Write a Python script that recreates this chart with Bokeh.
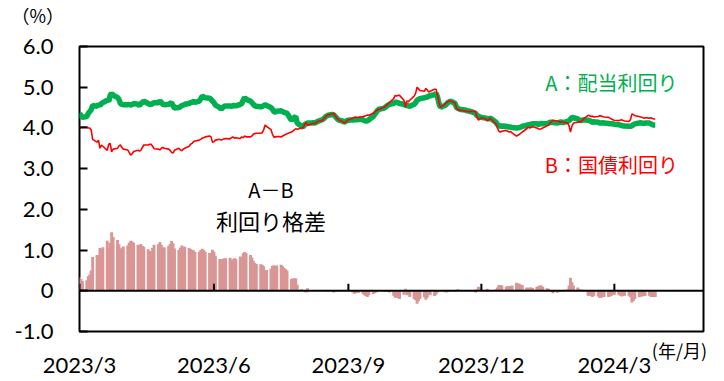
import pandas as pd
from bokeh.plotting import figure
from bokeh.models import ColumnDataSource, FixedTicker, Span, Label, Range1d, Title
from bokeh.embed import file_html
from bokeh.resources import INLINE

# ---- data (business days, 2023/3/1 - 2024/3/29) ----
dates = pd.bdate_range("2023-03-01", "2024-03-29")

div_yield = [
    4.36, 4.30, 4.26,
    4.28, 4.36, 4.40, 4.45, 4.55,
    4.53, 4.58, 4.55, 4.60, 4.62,
    4.68, 4.65, 4.80, 4.85, 4.80,
    4.75, 4.70, 4.60, 4.58, 4.57,
    4.57, 4.58, 4.56, 4.57, 4.60,
    4.58, 4.55, 4.60, 4.62, 4.66,
    4.60, 4.58, 4.57, 4.60, 4.62,
    4.62, 4.66, 4.63, 4.58, 4.57,
    4.58, 4.60, 4.62, 4.55, 4.49,
    4.50, 4.52, 4.55, 4.56, 4.58,
    4.60, 4.62, 4.63, 4.65, 4.63,
    4.66, 4.72, 4.78, 4.76, 4.74,
    4.73, 4.70, 4.66, 4.62, 4.56,
    4.50, 4.46, 4.50, 4.53, 4.54,
    4.54, 4.53, 4.55, 4.55, 4.54,
    4.58, 4.60, 4.68, 4.75, 4.70,
    4.66, 4.62, 4.58, 4.54, 4.53,
    4.52, 4.52, 4.55, 4.57, 4.55,
    4.50, 4.46, 4.40, 4.39, 4.41,
    4.42, 4.40, 4.38, 4.37, 4.36,
    4.19, 4.22, 4.26, 4.28, 4.12,
    4.04, 4.02, 4.08, 4.10, 4.12,
    4.12, 4.13, 4.12, 4.14, 4.16,
    4.20, 4.22, 4.26, 4.29, 4.31,
    4.33, 4.32, 4.28, 4.24, 4.20,
    4.17, 4.14, 4.16, 4.18, 4.19,
    4.20, 4.19, 4.21, 4.20, 4.21,
    4.20, 4.18, 4.17, 4.17, 4.20,
    4.28, 4.33, 4.38, 4.43, 4.46,
    4.48, 4.50, 4.53, 4.56, 4.58,
    4.60, 4.63, 4.63, 4.62, 4.60,
    4.58, 4.56, 4.55, 4.54, 4.53,
    4.58, 4.62, 4.68, 4.70, 4.72,
    4.74, 4.75, 4.76, 4.78, 4.79,
    4.82, 4.85, 4.76, 4.60, 4.51,
    4.55, 4.58, 4.62, 4.64, 4.66,
    4.60, 4.50, 4.48, 4.46, 4.45,
    4.44, 4.42, 4.42, 4.41, 4.40,
    4.36, 4.30, 4.29, 4.27, 4.26,
    4.24, 4.23, 4.22, 4.24, 4.22,
    4.14, 4.08, 4.06, 4.04, 4.05,
    4.04, 4.03, 4.02, 4.02, 4.01,
    4.00, 4.00, 4.01, 4.02, 4.04,
    4.06, 4.08, 4.08, 4.09, 4.10,
    4.10, 4.09, 4.10, 4.11, 4.10,
    4.11, 4.12, 4.14, 4.14, 4.13,
    4.12, 4.13, 4.15, 4.14, 4.13,
    4.16, 4.18, 4.22, 4.26, 4.25,
    4.22, 4.19, 4.18, 4.19, 4.20,
    4.19, 4.18, 4.16, 4.14, 4.15,
    4.14, 4.12, 4.12, 4.13, 4.12,
    4.11, 4.10, 4.10, 4.10, 4.09,
    4.08, 4.07, 4.06, 4.05, 4.05,
    4.04, 4.04, 4.05, 4.08, 4.10,
    4.12, 4.13, 4.12, 4.11, 4.12,
    4.12, 4.10, 4.08, 4.07, 4.07,
]

bond_yield = [
    4.02, 4.01, 4.02,
    4.02, 4.00, 4.00, 3.95, 3.72,
    3.65, 3.70, 3.50, 3.58, 3.55,
    3.45, 3.60, 3.62, 3.41, 3.48,
    3.50, 3.56, 3.58, 3.52, 3.48,
    3.46, 3.40, 3.33, 3.36, 3.42,
    3.45, 3.43, 3.45, 3.52, 3.58,
    3.58, 3.60, 3.60, 3.55, 3.49,
    3.48, 3.46, 3.50, 3.52, 3.50,
    3.48, 3.45, 3.40, 3.38, 3.45,
    3.50, 3.46, 3.44, 3.48, 3.50,
    3.55, 3.60, 3.62, 3.66, 3.68,
    3.70, 3.72, 3.75, 3.76, 3.78,
    3.80, 3.78, 3.65, 3.66, 3.70,
    3.72, 3.70, 3.72, 3.73, 3.74,
    3.73, 3.76, 3.78, 3.75, 3.76,
    3.74, 3.78, 3.76, 3.80, 3.78,
    3.78, 3.80, 3.85, 3.86, 3.87,
    3.87, 3.88, 3.95, 4.07, 4.04,
    3.96, 3.85, 3.77, 3.78, 3.79,
    3.78, 3.80, 3.82, 3.84, 3.86,
    3.90, 3.92, 3.95, 3.98, 3.97,
    4.00, 4.00, 4.08, 4.14, 4.06,
    4.10, 4.12, 4.10, 4.14, 4.16,
    4.18, 4.22, 4.26, 4.30, 4.32,
    4.34, 4.36, 4.30, 4.25, 4.20,
    4.16, 4.12, 4.14, 4.18, 4.20,
    4.24, 4.26, 4.27, 4.25, 4.26,
    4.28, 4.29, 4.30, 4.32, 4.31,
    4.36, 4.39, 4.42, 4.45, 4.46,
    4.50, 4.52, 4.56, 4.58, 4.62,
    4.72, 4.80, 4.78, 4.80, 4.80,
    4.68, 4.51, 4.66, 4.64, 4.68,
    4.78, 4.85, 5.00, 4.96, 4.92,
    4.90, 4.97, 4.93, 4.88, 4.90,
    4.95, 4.95, 4.80, 4.62, 4.51,
    4.58, 4.62, 4.64, 4.66, 4.66,
    4.62, 4.48, 4.44, 4.45, 4.43,
    4.42, 4.41, 4.40, 4.40, 4.41,
    4.40, 4.26, 4.19, 4.22, 4.25,
    4.22, 4.18, 4.20, 4.24, 4.20,
    4.10, 4.00, 3.92, 3.90, 3.92,
    3.94, 3.92, 3.90, 3.91, 3.88,
    3.80, 3.82, 3.84, 3.87, 3.90,
    3.98, 4.02, 4.00, 4.01, 4.03,
    4.00, 3.98, 3.97, 3.98, 4.00,
    4.05, 4.07, 4.12, 4.16, 4.19,
    4.17, 4.16, 4.14, 4.15, 4.14,
    4.12, 4.05, 3.90, 4.05, 4.12,
    4.14, 4.16, 4.15, 4.18, 4.22,
    4.31, 4.30, 4.28, 4.29, 4.27,
    4.28, 4.30, 4.29, 4.28, 4.27,
    4.26, 4.24, 4.22, 4.20, 4.19,
    4.18, 4.19, 4.20, 4.18, 4.17,
    4.16, 4.20, 4.34, 4.33, 4.30,
    4.28, 4.27, 4.26, 4.24, 4.25,
    4.24, 4.25, 4.23, 4.22, 4.22,
]

spread = [round(a - b, 2) for a, b in zip(div_yield, bond_yield)]

x_tick_dates = ["2023-03-01", "2023-06-01", "2023-09-01", "2023-12-01", "2024-03-01"]
x_tick_labels = ["2023/3", "2023/6", "2023/9", "2023/12", "2024/3"]
y_ticks = [-1, 0, 1, 2, 3, 4, 5, 6]
y_tick_labels = ["-1.0", "0", "1.0", "2.0", "3.0", "4.0", "5.0", "6.0"]

label_a = "A：配当利回り"
label_b = "B：国債利回り"
label_spread_1 = "A－B"
label_spread_2 = "利回り格差"
unit_y = "（%）"
unit_x = "(年/月)"

# ---- build ----
def ms(d):
    return pd.Timestamp(d).value // 10**6

DAY = 86400000
xs = [ms(d) for d in dates]
src = ColumnDataSource(dict(x=xs, a=div_yield, b=bond_yield, s=spread))
tick_ms = [ms(d) for d in x_tick_dates]

NUM_FONT = "Lato"
JP_FONT = "Noto Sans CJK JP"

p = figure(width=724, height=381, output_backend="svg", toolbar_location=None,
           title=None,
           x_range=Range1d(ms("2023-03-01"), ms("2024-05-01")),
           y_range=Range1d(-1, 6),
           min_border_left=79, min_border_right=21, min_border_top=46, min_border_bottom=50)
p.xgrid.grid_line_color = None
p.ygrid.grid_line_color = None
p.outline_line_color = "black"
p.outline_line_width = 2
p.background_fill_color = "white"
p.border_fill_color = "white"

# "(%)" above the y tick labels; the trailing empty line lifts it higher in its box
p.add_layout(Title(text=unit_y + "\n", align="left", offset=-68, standoff=-14,
                   text_font=JP_FONT, text_font_size="18px", text_font_style="normal",
                   text_color="black"), "above")

p.vbar(x="x", top="s", bottom=0, width=2 * DAY, source=src,
       fill_color="#D99694", line_color=None)
p.add_layout(Span(location=0, dimension="width", line_color="black", line_width=2))
p.segment(x0=tick_ms, y0=[0] * len(tick_ms), x1=tick_ms, y1=[0.17] * len(tick_ms),
          line_color="black", line_width=2)
p.line("x", "a", source=src, line_color="#00B050", line_width=5.5)
p.line("x", "b", source=src, line_color="#FF0000", line_width=1.6)

# axes
xa = p.xaxis[0]
xa.ticker = FixedTicker(ticks=tick_ms)
xa.major_label_overrides = {t: l for t, l in zip(tick_ms, x_tick_labels)}
xa.axis_line_color = None
xa.major_tick_line_color = None
xa.minor_tick_line_color = None
xa.major_label_standoff = 13
xa.major_label_text_font = NUM_FONT
xa.major_label_text_font_size = "22px"
xa.major_label_text_color = "black"
# unit label: centred axis label, pushed to the right end by leading ideographic spaces
xa.axis_label = "\u3000" * 32 + unit_x
xa.axis_label_align = "center"
xa.axis_label_standoff = -44
xa.axis_label_text_font = JP_FONT
xa.axis_label_text_font_size = "18px"
xa.axis_label_text_font_style = "normal"
xa.axis_label_text_color = "black"

ya = p.yaxis[0]
ya.ticker = FixedTicker(ticks=y_ticks)
ya.major_label_overrides = {t: l for t, l in zip(y_ticks, y_tick_labels)}
ya.axis_line_color = None
ya.major_tick_in = 8
ya.major_tick_out = 0
ya.major_tick_line_width = 2
ya.major_tick_line_color = "black"
ya.minor_tick_line_color = None
ya.major_label_standoff = 26
ya.major_label_text_font = NUM_FONT
ya.major_label_text_font_size = "22px"
ya.major_label_text_color = "black"

# texts
def lab(text, x, y, color, size, font=JP_FONT):
    p.add_layout(Label(x=x, y=y, text=text, text_color=color, text_font_size=size,
                       text_font=font, text_align="center", text_baseline="middle"))

lab(label_a, ms("2024-02-28"), 5.12, "#00B050", "20px")
lab(label_b, ms("2024-02-28"), 3.11, "#FF0000", "20px")
lab(label_spread_1, ms("2023-07-10"), 2.5, "black", "20px")
lab(label_spread_2, ms("2023-07-10"), 1.74, "black", "22px")

open("out.html", "w").write(file_html(p, INLINE))
